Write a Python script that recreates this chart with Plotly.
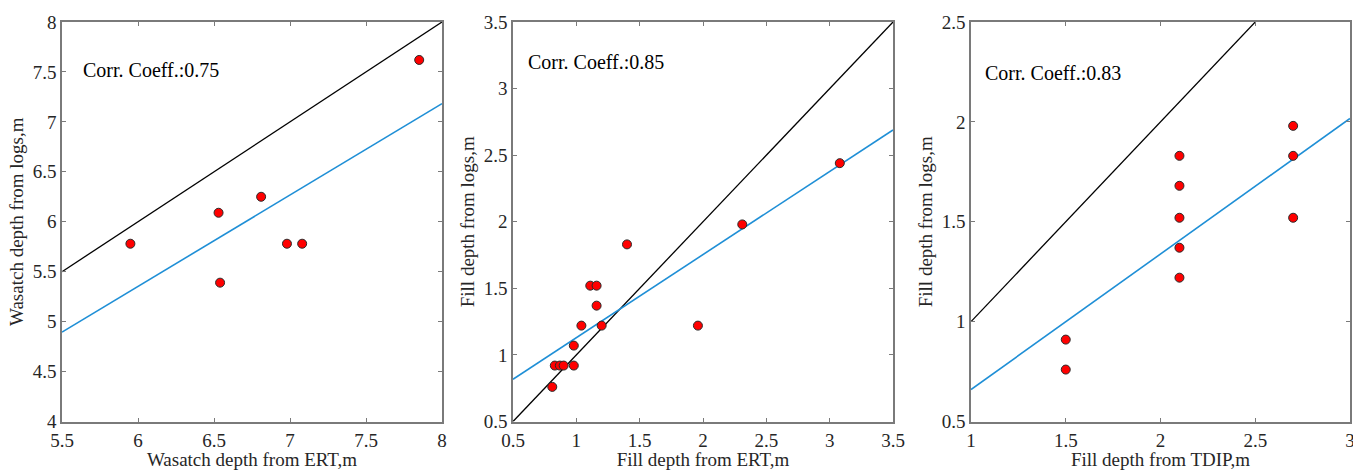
import plotly.graph_objects as go
import numpy as np

# ---- data ----
p1_x = [5.95, 6.53, 6.54, 6.81, 6.98, 7.08, 7.85]
p1_y = [5.78, 6.09, 5.39, 6.25, 5.78, 5.78, 7.62]

p2_x = [0.81, 0.83, 0.87, 0.90, 0.98, 0.98, 1.04, 1.20, 1.11, 1.16, 1.16, 1.40, 1.96, 2.31, 3.08]
p2_y = [0.76, 0.92, 0.92, 0.92, 0.92, 1.07, 1.22, 1.22, 1.52, 1.52, 1.37, 1.83, 1.22, 1.98, 2.44]

p3_x = [1.5, 1.5, 2.1, 2.1, 2.1, 2.1, 2.1, 2.7, 2.7, 2.7]
p3_y = [0.91, 0.76, 1.83, 1.68, 1.52, 1.37, 1.22, 1.98, 1.83, 1.52]

fit_slope = [0.915, 0.624, 0.6785]
fit_intercept = [-0.1375, 0.5055, -0.0185]

corr_labels = ["Corr. Coeff.:0.75", "Corr. Coeff.:0.85", "Corr. Coeff.:0.83"]
x_titles = ["Wasatch depth from ERT,m", "Fill depth from ERT,m", "Fill depth from TDIP,m"]
y_titles = ["Wasatch depth from logs,m", "Fill depth from logs,m", "Fill depth from logs,m"]
x_ranges = [[5.5, 8], [0.5, 3.5], [1, 3]]
y_ranges = [[4, 8], [0.5, 3.5], [0.5, 2.5]]

# ---- layout geometry ----
W, H = 1353, 470
x_domains = [[62 / W, 442 / W], [513 / W, 893 / W], [971 / W, 1350 / W]]
y_domain = [1 - 421.5 / H, 1 - 22 / H]
ann_pos = [(0.05, 0.88), (0.034, 0.90), (0.032, 0.873)]

FONT = "Liberation Serif, Times New Roman, serif"
TXT = "#262626"
AXC = "#7a7a7a"
BLUE = "#1f8fd6"
FS_TICK = 19
FS_TITLE = 19
FS_ANN = 20

fig = go.Figure()
datasets = [(p1_x, p1_y), (p2_x, p2_y), (p3_x, p3_y)]

for i, (xs, ys) in enumerate(datasets):
    xa = "x" if i == 0 else f"x{i+1}"
    ya = "y" if i == 0 else f"y{i+1}"
    lo, hi = x_ranges[i]
    # 1:1 line
    fig.add_trace(go.Scatter(x=[lo, hi], y=[lo, hi], mode="lines",
                             line=dict(color="black", width=1.3),
                             xaxis=xa, yaxis=ya, showlegend=False, hoverinfo="skip"))
    # fit line
    fx = np.array([lo, hi])
    fy = fit_slope[i] * fx + fit_intercept[i]
    fig.add_trace(go.Scatter(x=fx, y=fy, mode="lines",
                             line=dict(color=BLUE, width=1.6),
                             xaxis=xa, yaxis=ya, showlegend=False, hoverinfo="skip"))
    # data points
    fig.add_trace(go.Scatter(x=xs, y=ys, mode="markers",
                             marker=dict(color="#ff0000", size=9,
                                         line=dict(color="#2a2a2a", width=1)),
                             xaxis=xa, yaxis=ya, showlegend=False))

axis_common = dict(showgrid=False, zeroline=False, showline=True, linecolor=AXC,
                   linewidth=1.5, mirror="ticks", ticks="inside", ticklen=4,
                   tickcolor=AXC, tickwidth=1, ticklabeloverflow="allow",
                   tickfont=dict(family=FONT, size=FS_TICK, color=TXT),
                   dtick=0.5, automargin=False)

layout = dict(width=W, height=H, margin=dict(l=0, r=0, t=0, b=0),
              paper_bgcolor="white", plot_bgcolor="white", showlegend=False)

annotations = []
for i in range(3):
    xk = "xaxis" if i == 0 else f"xaxis{i+1}"
    yk = "yaxis" if i == 0 else f"yaxis{i+1}"
    ya = "y" if i == 0 else f"y{i+1}"
    xa = "x" if i == 0 else f"x{i+1}"
    layout[xk] = dict(axis_common, domain=x_domains[i], range=x_ranges[i], anchor=ya,
                      ticklabelstandoff=1,
                      title=dict(text=x_titles[i], font=dict(family=FONT, size=FS_TITLE, color=TXT),
                                 standoff=4))
    layout[yk] = dict(axis_common, domain=y_domain, range=y_ranges[i], anchor=xa,
                      title=dict(text=y_titles[i], font=dict(family=FONT, size=FS_TITLE, color=TXT),
                                 standoff=4))
    annotations.append(dict(text=corr_labels[i], xref=f"{xa} domain", yref=f"{ya} domain",
                            x=ann_pos[i][0], y=ann_pos[i][1], xanchor="left", yanchor="middle",
                            showarrow=False, font=dict(family=FONT, size=FS_ANN, color="black")))

layout["annotations"] = annotations
fig.update_layout(**layout)
fig.write_html("out.html")
